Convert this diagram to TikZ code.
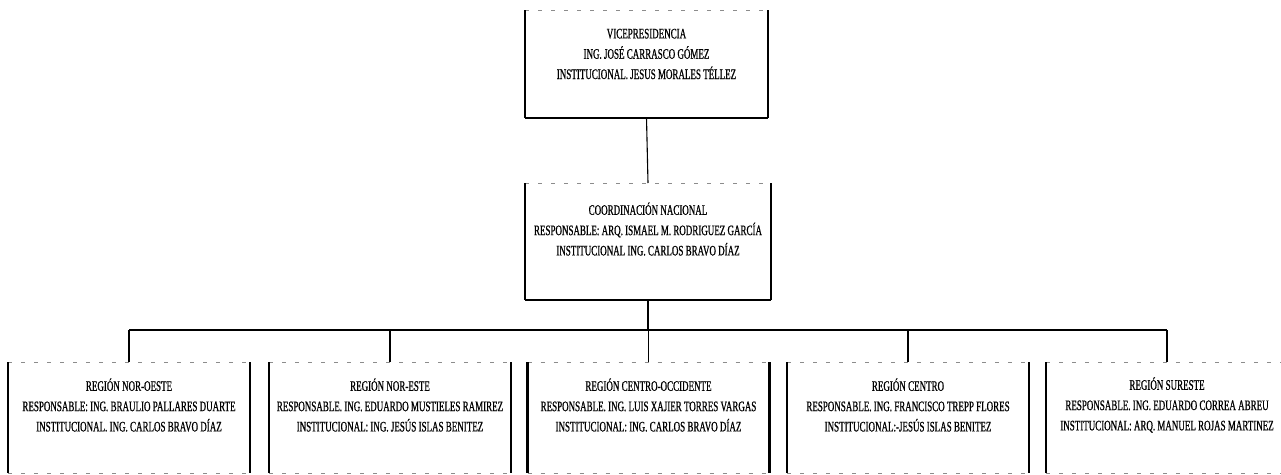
\documentclass[tikz,border=0pt]{standalone}
\usepackage{fontspec}
\setmainfont{Liberation Serif}[FakeStretch=0.62, FakeBold=0.7]
\begin{document}
\begin{tikzpicture}[x=1pt,y=-1pt,
  box/.style={minimum width=#1, inner sep=0pt, outer sep=0pt},
  topbox/.style={box=243pt, minimum height=108pt},
  midbox/.style={box=246pt, minimum height=117pt},
  regbox/.style={box=242pt, minimum height=111pt},
  txt/.style={align=center, inner sep=0pt, font=\fontsize{14.5}{20.3}\selectfont},
  side/.style={line width=2.4pt, black},
  base/.style={line width=2.6pt, black},
  faint/.style={line width=0.8pt, black!45, dash pattern=on 4pt off 9pt},
  link/.style={line width=1.1pt, black}]
\clip (0,0) rectangle (1281,474);
\fill[white] (0,0) rectangle (1281,474);

% boxes
\node[topbox] (vp) at (646.5,64) {};
\node[midbox] (cn) at (648,241.5) {};
\node[regbox] (r1) at (129,417.5) {};
\node[regbox] (r2) at (390,417.5) {};
\node[regbox] (r3) at (648.5,417.5) {};
\node[regbox] (r4) at (908,417.5) {};
\node[regbox] (r5) at (1167,417.5) {};

% frames: heavy sides, faint top edge
\foreach \b in {vp,cn,r1,r2,r3,r4,r5}{
  \draw[faint] (\b.north west) -- (\b.north east);
  \draw[side] (\b.north west) -- (\b.south west);
  \draw[side] (\b.north east) -- (\b.south east);
}
\draw[base] (vp.south west) -- (vp.south east);
\draw[base] (cn.south west) -- (cn.south east);
\foreach \b in {r1,r2,r3,r4,r5}{
  \draw[faint] (\b.south west) -- (\b.south east);
}

% texts
\node[txt] (vpt) at (646.5,54) {VICEPRESIDENCIA\\ING. JOSÉ CARRASCO GÓMEZ\\INSTITUCIONAL. JESUS MORALES TÉLLEZ};
\node[txt] (cnt) at (648,229) {COORDINACIÓN NACIONAL\\RESPONSABLE: ARQ. ISMAEL M. RODRIGUEZ GARCÍA\\INSTITUCIONAL ING. CARLOS BRAVO DÍAZ};
\node[txt] (r1t) at (129,405) {REGIÓN NOR-OESTE\\RESPONSABLE: ING. BRAULIO PALLARES DUARTE\\INSTITUCIONAL. ING. CARLOS BRAVO DÍAZ};
\node[txt] (r2t) at (390,405) {REGIÓN NOR-ESTE\\RESPONSABLE. ING. EDUARDO MUSTIELES RAMIREZ\\INSTITUCIONAL: ING. JESÚS ISLAS BENITEZ};
\node[txt] (r3t) at (648.5,405) {REGIÓN CENTRO-OCCIDENTE\\RESPONSABLE. ING. LUIS XAJIER TORRES VARGAS\\INSTITUCIONAL: ING. CARLOS BRAVO DÍAZ};
\node[txt] (r4t) at (908,405) {REGIÓN CENTRO\\RESPONSABLE. ING. FRANCISCO TREPP FLORES\\INSTITUCIONAL:-JESÚS ISLAS BENITEZ};
\node[txt] (r5t) at (1167,405) {REGIÓN SURESTE\\RESPONSABLE. ING. EDUARDO CORREA ABREU\\INSTITUCIONAL: ARQ. MANUEL ROJAS MARTINEZ};

% connectors
\coordinate (bus) at (648,330);
\draw[link] (vp.south) -- (cn.north);
\draw[link] (cn.south) -- (cn.south |- bus);
\draw[link, line width=1.4pt] (r1.north |- bus) -- (r5.north |- bus);
\foreach \b in {r1,r2,r3,r4,r5}{
  \draw[link] (\b.north |- bus) -- (\b.north);
}
\end{tikzpicture}
\end{document}
